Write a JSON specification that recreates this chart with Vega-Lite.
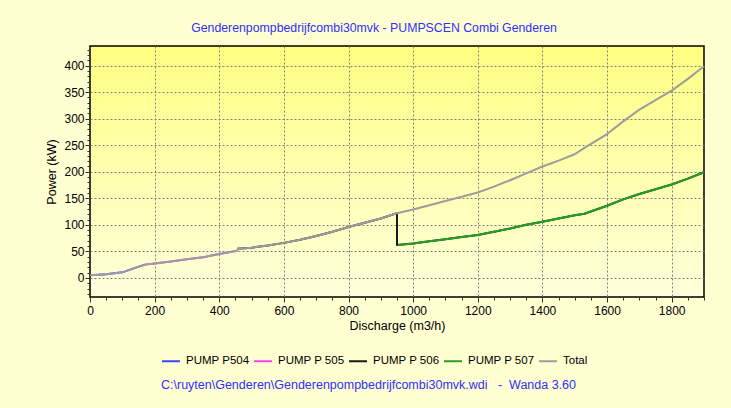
{
  "$schema": "https://vega.github.io/schema/vega-lite/v6.json",
  "width": 614,
  "height": 251,
  "autosize": {"type": "none"},
  "padding": {"left": 90, "top": 46, "right": 27, "bottom": 111},
  "background": "#ffffd2",
  "title": {
    "text": "Genderenpompbedrijfcombi30mvk - PUMPSCEN Combi Genderen",
    "anchor": "middle",
    "dx": -23,
    "offset": 9,
    "font": "Liberation Sans",
    "fontSize": 12.3,
    "fontWeight": "normal",
    "color": "#2f2fff"
  },
  "view": {
    "stroke": "#000000",
    "strokeWidth": 1.5,
    "fill": {
      "gradient": "linear",
      "x1": 0, "y1": 0, "x2": 0, "y2": 1,
      "stops": [
        {"offset": 0, "color": "#ffff82"},
        {"offset": 1, "color": "#ffffdc"}
      ]
    }
  },
  "config": {
    "axis": {
      "labelFont": "Liberation Sans",
      "labelFontSize": 12,
      "labelColor": "#000000",
      "titleFont": "Liberation Sans",
      "titleFontSize": 12.5,
      "titleFontWeight": "normal",
      "titleColor": "#000000",
      "domain": false,
      "tickColor": "#333333",
      "gridColor": "#808080",
      "gridDash": [2, 2],
      "gridWidth": 1,
      "labelOverlap": false,
      "labelFlush": false
    }
  },
  "data": {
    "values": [
      {"series": "PUMP P504", "i": 1, "q": 0, "p": 5},
      {"series": "PUMP P504", "i": 2, "q": 50, "p": 7},
      {"series": "PUMP P504", "i": 3, "q": 100, "p": 10.5},
      {"series": "PUMP P504", "i": 4, "q": 135, "p": 18},
      {"series": "PUMP P504", "i": 5, "q": 170, "p": 25},
      {"series": "PUMP P 505", "i": 1, "q": 170, "p": 25},
      {"series": "PUMP P 505", "i": 2, "q": 200, "p": 27},
      {"series": "PUMP P 505", "i": 3, "q": 250, "p": 31},
      {"series": "PUMP P 505", "i": 4, "q": 300, "p": 35},
      {"series": "PUMP P 505", "i": 5, "q": 350, "p": 39},
      {"series": "PUMP P 505", "i": 6, "q": 400, "p": 45},
      {"series": "PUMP P 505", "i": 7, "q": 455, "p": 51},
      {"series": "PUMP P 506", "i": 1, "q": 455, "p": 55},
      {"series": "PUMP P 506", "i": 2, "q": 500, "p": 57},
      {"series": "PUMP P 506", "i": 3, "q": 550, "p": 61},
      {"series": "PUMP P 506", "i": 4, "q": 600, "p": 66},
      {"series": "PUMP P 506", "i": 5, "q": 650, "p": 72},
      {"series": "PUMP P 506", "i": 6, "q": 700, "p": 79},
      {"series": "PUMP P 506", "i": 7, "q": 750, "p": 87},
      {"series": "PUMP P 506", "i": 8, "q": 800, "p": 96},
      {"series": "PUMP P 506", "i": 9, "q": 850, "p": 104},
      {"series": "PUMP P 506", "i": 10, "q": 900, "p": 112},
      {"series": "PUMP P 506", "i": 11, "q": 950, "p": 122},
      {"series": "PUMP P 506", "i": 12, "q": 950, "p": 62},
      {"series": "PUMP P 506", "i": 13, "q": 1000, "p": 65},
      {"series": "PUMP P 506", "i": 14, "q": 1050, "p": 69},
      {"series": "PUMP P 506", "i": 15, "q": 1100, "p": 73},
      {"series": "PUMP P 506", "i": 16, "q": 1150, "p": 77},
      {"series": "PUMP P 506", "i": 17, "q": 1200, "p": 81},
      {"series": "PUMP P 506", "i": 18, "q": 1250, "p": 87},
      {"series": "PUMP P 506", "i": 19, "q": 1300, "p": 93},
      {"series": "PUMP P 506", "i": 20, "q": 1350, "p": 100},
      {"series": "PUMP P 506", "i": 21, "q": 1400, "p": 106},
      {"series": "PUMP P 506", "i": 22, "q": 1450, "p": 112},
      {"series": "PUMP P 506", "i": 23, "q": 1500, "p": 118},
      {"series": "PUMP P 506", "i": 24, "q": 1530, "p": 121},
      {"series": "PUMP P 506", "i": 25, "q": 1600, "p": 136},
      {"series": "PUMP P 506", "i": 26, "q": 1650, "p": 148},
      {"series": "PUMP P 506", "i": 27, "q": 1700, "p": 158},
      {"series": "PUMP P 506", "i": 28, "q": 1750, "p": 167},
      {"series": "PUMP P 506", "i": 29, "q": 1800, "p": 176},
      {"series": "PUMP P 506", "i": 30, "q": 1850, "p": 187},
      {"series": "PUMP P 506", "i": 31, "q": 1900, "p": 199},
      {"series": "PUMP P 507", "i": 1, "q": 953, "p": 62},
      {"series": "PUMP P 507", "i": 2, "q": 1000, "p": 65},
      {"series": "PUMP P 507", "i": 3, "q": 1050, "p": 69},
      {"series": "PUMP P 507", "i": 4, "q": 1100, "p": 73},
      {"series": "PUMP P 507", "i": 5, "q": 1150, "p": 77},
      {"series": "PUMP P 507", "i": 6, "q": 1200, "p": 81},
      {"series": "PUMP P 507", "i": 7, "q": 1250, "p": 87},
      {"series": "PUMP P 507", "i": 8, "q": 1300, "p": 93},
      {"series": "PUMP P 507", "i": 9, "q": 1350, "p": 100},
      {"series": "PUMP P 507", "i": 10, "q": 1400, "p": 106},
      {"series": "PUMP P 507", "i": 11, "q": 1450, "p": 112},
      {"series": "PUMP P 507", "i": 12, "q": 1500, "p": 118},
      {"series": "PUMP P 507", "i": 13, "q": 1530, "p": 121},
      {"series": "PUMP P 507", "i": 14, "q": 1600, "p": 136},
      {"series": "PUMP P 507", "i": 15, "q": 1650, "p": 148},
      {"series": "PUMP P 507", "i": 16, "q": 1700, "p": 158},
      {"series": "PUMP P 507", "i": 17, "q": 1750, "p": 167},
      {"series": "PUMP P 507", "i": 18, "q": 1800, "p": 176},
      {"series": "PUMP P 507", "i": 19, "q": 1850, "p": 187},
      {"series": "PUMP P 507", "i": 20, "q": 1900, "p": 199},
      {"series": "Total", "i": 1, "q": 0, "p": 5},
      {"series": "Total", "i": 2, "q": 50, "p": 7},
      {"series": "Total", "i": 3, "q": 100, "p": 10.5},
      {"series": "Total", "i": 4, "q": 135, "p": 18},
      {"series": "Total", "i": 5, "q": 170, "p": 25},
      {"series": "Total", "i": 6, "q": 200, "p": 27},
      {"series": "Total", "i": 7, "q": 250, "p": 31},
      {"series": "Total", "i": 8, "q": 300, "p": 35},
      {"series": "Total", "i": 9, "q": 350, "p": 39},
      {"series": "Total", "i": 10, "q": 400, "p": 45},
      {"series": "Total", "i": 11, "q": 455, "p": 51},
      {"series": "Total", "i": 12, "q": 458, "p": 55},
      {"series": "Total", "i": 13, "q": 500, "p": 57},
      {"series": "Total", "i": 14, "q": 550, "p": 61},
      {"series": "Total", "i": 15, "q": 600, "p": 66},
      {"series": "Total", "i": 16, "q": 650, "p": 72},
      {"series": "Total", "i": 17, "q": 700, "p": 79},
      {"series": "Total", "i": 18, "q": 750, "p": 87},
      {"series": "Total", "i": 19, "q": 800, "p": 96},
      {"series": "Total", "i": 20, "q": 850, "p": 104},
      {"series": "Total", "i": 21, "q": 900, "p": 112},
      {"series": "Total", "i": 22, "q": 950, "p": 122},
      {"series": "Total", "i": 23, "q": 1000, "p": 129},
      {"series": "Total", "i": 24, "q": 1050, "p": 137},
      {"series": "Total", "i": 25, "q": 1100, "p": 145},
      {"series": "Total", "i": 26, "q": 1150, "p": 153},
      {"series": "Total", "i": 27, "q": 1200, "p": 161},
      {"series": "Total", "i": 28, "q": 1250, "p": 172},
      {"series": "Total", "i": 29, "q": 1300, "p": 184},
      {"series": "Total", "i": 30, "q": 1350, "p": 197},
      {"series": "Total", "i": 31, "q": 1400, "p": 210},
      {"series": "Total", "i": 32, "q": 1450, "p": 221},
      {"series": "Total", "i": 33, "q": 1500, "p": 233},
      {"series": "Total", "i": 34, "q": 1530, "p": 245},
      {"series": "Total", "i": 35, "q": 1600, "p": 271},
      {"series": "Total", "i": 36, "q": 1650, "p": 295},
      {"series": "Total", "i": 37, "q": 1700, "p": 317},
      {"series": "Total", "i": 38, "q": 1750, "p": 335},
      {"series": "Total", "i": 39, "q": 1800, "p": 353},
      {"series": "Total", "i": 40, "q": 1850, "p": 375},
      {"series": "Total", "i": 41, "q": 1900, "p": 399}
    ]
  },
  "mark": {"type": "line", "strokeCap": "butt", "strokeJoin": "round"},
  "encoding": {
    "x": {
      "field": "q",
      "type": "quantitative",
      "scale": {"domain": [0, 1900], "nice": false, "zero": false},
      "axis": {
        "title": "Discharge (m3/h)",
        "format": "d",
        "values": [0, 50, 100, 150, 200, 250, 300, 350, 400, 450, 500, 550, 600, 650, 700, 750, 800, 850, 900, 950, 1000, 1050, 1100, 1150, 1200, 1250, 1300, 1350, 1400, 1450, 1500, 1550, 1600, 1650, 1700, 1750, 1800, 1850, 1900],
        "labelExpr": "datum.value % 200 === 0 ? datum.label : ''",
        "grid": true,
        "gridOpacity": {"condition": {"test": "datum.value % 200 === 0 && datum.value > 0", "value": 1}, "value": 0},
        "tickSize": {"condition": {"test": "datum.value % 200 === 0", "value": 5}, "value": 3},
        "labelPadding": 3,
        "titlePadding": 3
      }
    },
    "y": {
      "field": "p",
      "type": "quantitative",
      "scale": {"domain": [-36, 437], "nice": false, "zero": false},
      "axis": {
        "title": "Power (kW)",
        "format": "d",
        "values": [-30, -20, -10, 0, 10, 20, 30, 40, 50, 60, 70, 80, 90, 100, 110, 120, 130, 140, 150, 160, 170, 180, 190, 200, 210, 220, 230, 240, 250, 260, 270, 280, 290, 300, 310, 320, 330, 340, 350, 360, 370, 380, 390, 400, 410, 420, 430],
        "labelExpr": "datum.value % 50 === 0 ? datum.label : ''",
        "grid": true,
        "gridOpacity": {"condition": {"test": "datum.value % 50 === 0", "value": 1}, "value": 0},
        "tickSize": {"condition": {"test": "datum.value % 50 === 0", "value": 5}, "value": 3},
        "labelPadding": 1,
        "titlePadding": 5
      }
    },
    "color": {
      "field": "series",
      "type": "nominal",
      "scale": {
        "domain": ["PUMP P504", "PUMP P 505", "PUMP P 506", "PUMP P 507", "Total"],
        "range": ["#3a46ff", "#ff3cff", "#1a1a1a", "#23a023", "#9c9c9c"]
      },
      "legend": {
        "orient": "none",
        "legendX": 71,
        "legendY": 305,
        "direction": "horizontal",
        "columns": 5,
        "symbolType": "stroke",
        "symbolSize": 324,
        "symbolStrokeWidth": 2,
        "labelFont": "Liberation Sans",
        "labelFontSize": 11.5,
        "labelColor": "#000000",
        "labelOffset": 5,
        "labelLimit": 300,
        "columnPadding": 0,
        "padding": 0,
        "title": "C:\\ruyten\\Genderen\\Genderenpompbedrijfcombi30mvk.wdi\u00a0\u00a0\u00a0-\u00a0\u00a0Wanda 3.60",
        "titleOrient": "bottom",
        "titleAnchor": "start",
        "titleColor": "#2f2fff",
        "titleFont": "Liberation Sans",
        "titleFontSize": 12.5,
        "titleFontWeight": "normal",
        "titlePadding": 12,
        "titleLimit": 1000
      }
    },
    "strokeWidth": {
      "field": "series",
      "type": "nominal",
      "scale": {
        "domain": ["PUMP P504", "PUMP P 505", "PUMP P 506", "PUMP P 507", "Total"],
        "range": [2, 2, 2.6, 1.8, 1.5]
      },
      "legend": null
    },
    "opacity": {
      "field": "series",
      "type": "nominal",
      "scale": {
        "domain": ["PUMP P504", "PUMP P 505", "PUMP P 506", "PUMP P 507", "Total"],
        "range": [1, 1, 1, 1, 0.8]
      },
      "legend": null
    },
    "order": {"field": "i", "type": "quantitative"}
  }
}
